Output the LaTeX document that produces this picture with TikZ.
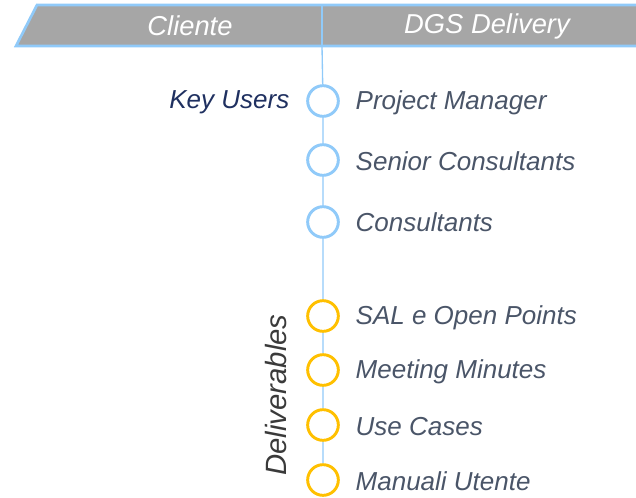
\documentclass[tikz,border=0pt]{standalone}
\usepackage{fontspec}
\setmainfont{Liberation Sans}
\definecolor{hdrgray}{HTML}{A6A6A6}
\definecolor{lblue}{HTML}{90CAF9}
\definecolor{ambr}{HTML}{FFC000}
\definecolor{slate}{HTML}{4A5568}
\definecolor{navy}{HTML}{1F3060}
\definecolor{dgray}{HTML}{3A3A3A}
\begin{document}
\begin{tikzpicture}[x=0.75pt,y=-0.75pt,
  dot/.style={circle,draw=lblue,line width=2.2pt,fill=white,minimum size=23pt,inner sep=0pt},
  gdot/.style={dot,draw=ambr},
  lbl/.style={anchor=west,text=slate,font=\fontsize{19.5}{22}\selectfont\itshape},
  hdr/.style={text=white,font=\fontsize{20.5}{23}\selectfont\itshape}]
\useasboundingbox (0,0) rectangle (636,497);
\fill[hdrgray] (37,5) -- (640,5) -- (640,46) -- (16,46) -- cycle;
\draw[lblue,line width=2pt] (640,5) -- (37,5) -- (16,46) -- (640,46);
\coordinate (top) at (322,46);
\coordinate (htop) at (322,5);
\draw[lblue,line width=1pt] (htop) -- (top);
\node[hdr] (cli) at (190,26) {Cliente};
\node[hdr] (dgs) at (487,26) {DGS Delivery};
\node[dot] (c1) at (323,101) {};
\node[dot] (c2) at (323,160) {};
\node[dot] (c3) at (323,222) {};
\node[gdot] (c4) at (323,316) {};
\node[gdot] (c5) at (323,370) {};
\node[gdot] (c6) at (323,425) {};
\node[gdot] (c7) at (323,480) {};
\draw[lblue,line width=1pt] (top) -- (c1) (c1) -- (c2) (c2) -- (c3) (c3) -- (c4) (c4) -- (c5) (c5) -- (c6) (c6) -- (c7);
\node[lbl] (t1) at (351,102.5) {Project Manager};
\node[lbl] (t2) at (351,161.5) {Senior Consultants};
\node[lbl] (t3) at (351,222.5) {Consultants};
\node[lbl] (t4) at (351,317.5) {SAL e Open Points};
\node[lbl] (t5) at (351,371.5) {Meeting Minutes};
\node[lbl] (t6) at (351,426.5) {Use Cases};
\node[lbl] (t7) at (351,481.5) {Manuali Utente};
\node[anchor=east,text=navy,font=\fontsize{19.5}{22}\selectfont\itshape] (ku) at (294,102.5) {Key Users};
\node[rotate=90,text=dgray,font=\fontsize{22}{25}\selectfont\itshape] (del) at (276,395) {Deliverables};
\end{tikzpicture}
\end{document}
